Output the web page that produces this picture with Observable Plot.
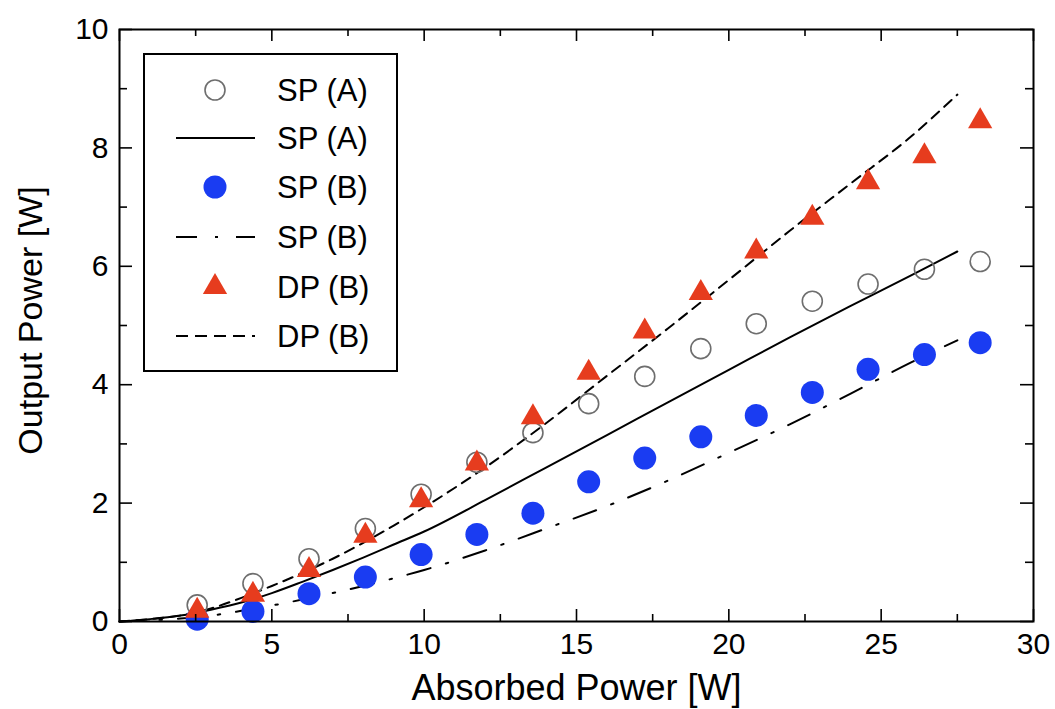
<!DOCTYPE html>
<html><head><meta charset="utf-8">
<script src="https://cdn.jsdelivr.net/npm/d3@7"></script>
<script src="https://cdn.jsdelivr.net/npm/@observablehq/plot@0.6"></script>
<style>
body{margin:0;background:#fff;}
#wrap{position:relative;width:1055px;height:709px;overflow:hidden;font-family:"Liberation Sans",Arial,Helvetica,sans-serif;}
#wrap svg{display:block}
#legend{position:absolute;left:0;top:0;pointer-events:none}
</style></head><body><div id="wrap"></div>
<script>
// ---- data ----
const absorbed = [2.55, 4.38, 6.22, 8.07, 9.9, 11.73, 13.57, 15.4, 17.24, 19.08, 20.9, 22.74, 24.57, 26.42, 28.25];
const spA_meas = [0.28, 0.64, 1.06, 1.57, 2.15, 2.69, 3.19, 3.68, 4.14, 4.61, 5.03, 5.41, 5.70, 5.95, 6.08];
const spB_meas = [0.04, 0.17, 0.47, 0.75, 1.13, 1.47, 1.83, 2.36, 2.76, 3.12, 3.48, 3.87, 4.26, 4.51, 4.71];
const dpB_meas = [0.18, 0.45, 0.87, 1.45, 2.05, 2.67, 3.45, 4.20, 4.90, 5.55, 6.25, 6.82, 7.42, 7.86, 8.45];

const modelX   = [0, 1, 2, 3, 4, 5, 6, 7, 8, 9, 10, 12, 14, 16, 18, 20, 22, 24, 26, 27.5];
const spA_calc = [0, 0.04, 0.10, 0.20, 0.32, 0.48, 0.67, 0.87, 1.08, 1.30, 1.52, 2.05, 2.60, 3.15, 3.70, 4.25, 4.80, 5.33, 5.85, 6.25];
const spB_calc = [0, 0.02, 0.05, 0.10, 0.18, 0.27, 0.37, 0.48, 0.60, 0.73, 0.87, 1.20, 1.57, 1.95, 2.38, 2.85, 3.33, 3.85, 4.38, 4.75];
const dpB_calc = [0, 0.04, 0.10, 0.22, 0.40, 0.60, 0.82, 1.06, 1.33, 1.62, 1.93, 2.60, 3.35, 4.15, 4.95, 5.77, 6.60, 7.40, 8.20, 8.90];

const xMajor = [0, 5, 10, 15, 20, 25, 30];
const xMinor = [2.5, 7.5, 12.5, 17.5, 22.5, 27.5];
const yMajor = [0, 2, 4, 6, 8, 10];
const yMinor = [1, 3, 5, 7, 9];

const legendLabels = ["SP (A)", "SP (A)", "SP (B)", "SP (B)", "DP (B)", "DP (B)"];
const xTitle = "Absorbed Power [W]";
const yTitle = "Output Power [W]";

const blue = "#1a3cf2", red = "#e63c1e", gray = "#6e6e6e";

// ---- tables ----
const meas = (ys) => absorbed.map((x, i) => ({x, y: ys[i]}));
const calc = (ys) => modelX.map((x, i) => ({x, y: ys[i]}));

const W = 1055, H = 709, ml = 119, mr = 22, mt = 29, mb = 88;
const innerH = H - mt - mb, innerW = W - ml - mr;
const font = '"Liberation Sans", Arial, Helvetica, sans-serif';

const chart = Plot.plot({
  width: W, height: H,
  marginLeft: ml, marginRight: mr, marginTop: mt, marginBottom: mb,
  x: {domain: [0, 30]},
  y: {domain: [0, 10]},
  style: {fontFamily: font, background: "white", color: "black", overflow: "visible"},
  marks: [
    // curves
    Plot.line(calc(spA_calc), {x: "x", y: "y", curve: "monotone-x", stroke: "black", strokeWidth: 2}),
    Plot.line(calc(spB_calc), {x: "x", y: "y", curve: "monotone-x", stroke: "black", strokeWidth: 2, strokeDasharray: "24,16,2.5,16"}),
    Plot.line(calc(dpB_calc), {x: "x", y: "y", curve: "monotone-x", stroke: "black", strokeWidth: 2, strokeDasharray: "10,7"}),
    // measurements
    Plot.dot(meas(spA_meas), {x: "x", y: "y", r: 10, stroke: gray, strokeWidth: 1.6, fill: "none"}),
    Plot.dot(meas(spB_meas), {x: "x", y: "y", r: 11.5, fill: blue, stroke: "none"}),
    Plot.dot(meas(dpB_meas), {x: "x", y: "y", r: 9, symbol: "triangle", fill: red, stroke: "none"}),
    // frame and inward ticks
    Plot.frame({stroke: "black", strokeWidth: 2}),
    Plot.tickX(xMajor, {x: d => d, insetTop: innerH - 12, stroke: "black", strokeWidth: 1.6}),
    Plot.tickX(xMajor, {x: d => d, insetBottom: innerH - 12, stroke: "black", strokeWidth: 1.6}),
    Plot.tickX(xMinor, {x: d => d, insetTop: innerH - 7, stroke: "black", strokeWidth: 1.6}),
    Plot.tickX(xMinor, {x: d => d, insetBottom: innerH - 7, stroke: "black", strokeWidth: 1.6}),
    Plot.tickY(yMajor, {y: d => d, insetRight: innerW - 13, stroke: "black", strokeWidth: 1.6}),
    Plot.tickY(yMajor, {y: d => d, insetLeft: innerW - 13, stroke: "black", strokeWidth: 1.6}),
    Plot.tickY(yMinor, {y: d => d, insetRight: innerW - 8, stroke: "black", strokeWidth: 1.6}),
    Plot.tickY(yMinor, {y: d => d, insetLeft: innerW - 8, stroke: "black", strokeWidth: 1.6}),
    // axes labels
    Plot.axisX(xMajor, {tickSize: 0, tickPadding: 11, fontSize: 30, label: null, tickFormat: d3.format("d")}),
    Plot.axisY(yMajor, {tickSize: 0, tickPadding: 11, fontSize: 30, label: null, tickFormat: d3.format("d")}),
    Plot.text([xTitle], {frameAnchor: "bottom", textAnchor: "middle", lineAnchor: "middle", dy: 67, fontSize: 36, text: d => d}),
    Plot.text([yTitle], {frameAnchor: "left", textAnchor: "middle", lineAnchor: "middle", dx: -88, dy: -5, rotate: -90, fontSize: 34, text: d => d})
  ]
});
const wrap = document.getElementById("wrap");
wrap.appendChild(chart);

// ---- legend overlay ----
const lg = d3.select(wrap).append("svg").attr("id", "legend").attr("width", W).attr("height", H);
lg.append("rect").attr("x", 144).attr("y", 54).attr("width", 253).attr("height", 317)
  .attr("fill", "white").attr("stroke", "black").attr("stroke-width", 2);
const rowsY = [90, 138, 187, 237, 287, 336];
const symX = 215, lx1 = 176, lx2 = 255;
lg.append("circle").attr("cx", symX).attr("cy", rowsY[0]).attr("r", 10).attr("fill", "none").attr("stroke", gray).attr("stroke-width", 1.6);
lg.append("line").attr("x1", lx1).attr("x2", lx2).attr("y1", rowsY[1]).attr("y2", rowsY[1]).attr("stroke", "black").attr("stroke-width", 2);
lg.append("circle").attr("cx", symX).attr("cy", rowsY[2]).attr("r", 11.5).attr("fill", blue);
lg.append("line").attr("x1", lx1).attr("x2", lx2).attr("y1", rowsY[3]).attr("y2", rowsY[3]).attr("stroke", "black").attr("stroke-width", 2).attr("stroke-dasharray", "21,18,3,18");
lg.append("path").attr("transform", `translate(${symX},${rowsY[4]})`).attr("d", d3.symbol(d3.symbolTriangle, Math.PI * 81)()).attr("fill", red);
lg.append("line").attr("x1", lx1).attr("x2", lx2).attr("y1", rowsY[5]).attr("y2", rowsY[5]).attr("stroke", "black").attr("stroke-width", 2).attr("stroke-dasharray", "12,7");
lg.selectAll("text.lab").data(legendLabels).join("text").attr("class", "lab")
  .attr("x", 277).attr("y", (d, i) => rowsY[i]).attr("dy", "0.35em")
  .attr("font-family", font).attr("font-size", 31).attr("fill", "black").text(d => d);
</script>
</body></html>
